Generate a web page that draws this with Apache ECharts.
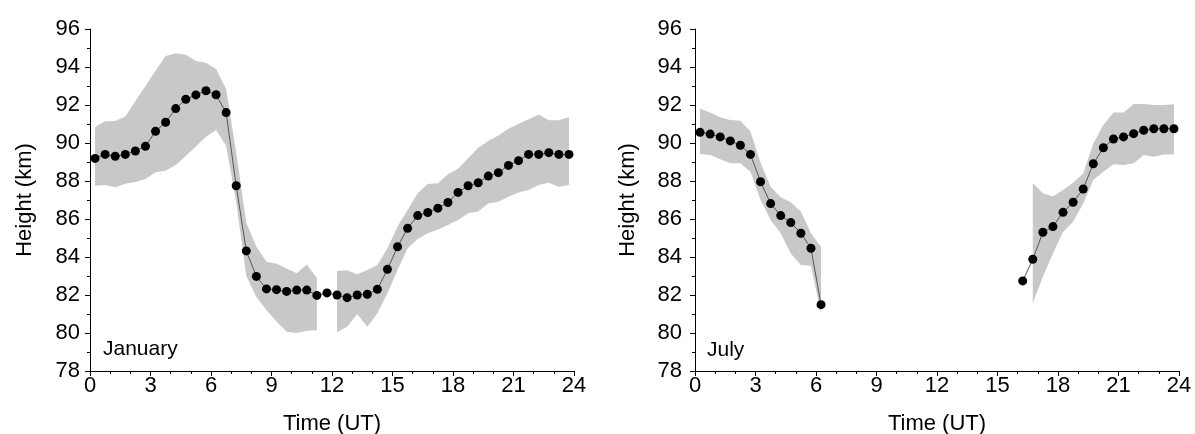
<!DOCTYPE html>
<html>
<head>
<meta charset="utf-8">
<script src="https://cdn.jsdelivr.net/npm/echarts@6/dist/echarts.min.js"></script>
<style>html,body{margin:0;padding:0;background:#fff;}#c{width:1195px;height:434px;}</style>
</head>
<body>
<div id="c"></div>
<script>
var timeUT = [0.25, 0.75, 1.25, 1.75, 2.25, 2.75, 3.25, 3.75, 4.25, 4.75, 5.25, 5.75,
  6.25, 6.75, 7.25, 7.75, 8.25, 8.75, 9.25, 9.75, 10.25, 10.75, 11.25, 11.75,
  12.25, 12.75, 13.25, 13.75, 14.25, 14.75, 15.25, 15.75, 16.25, 16.75, 17.25, 17.75,
  18.25, 18.75, 19.25, 19.75, 20.25, 20.75, 21.25, 21.75, 22.25, 22.75, 23.25, 23.75];

var janMean = [89.19, 89.40, 89.30, 89.40, 89.58, 89.83, 90.62, 91.09, 91.81, 92.30,
  92.53, 92.75, 92.54, 91.60, 87.75, 84.32, 82.98, 82.32, 82.28, 82.19,
  82.26, 82.26, 81.98, 82.11, 82.00, 81.86, 82.00, 82.04, 82.30, 83.35,
  84.54, 85.51, 86.18, 86.34, 86.57, 86.87, 87.40, 87.75, 87.91, 88.26,
  88.44, 88.82, 89.07, 89.40, 89.40, 89.49, 89.40, 89.40];
var janUpper = [90.84, 91.14, 91.16, 91.39, 92.2, 93.0, 93.8, 94.58, 94.72, 94.65,
  94.32, 94.23, 93.9, 92.83, 89.5, 85.8, 84.54, 83.75, 83.65, 83.4,
  83.14, 83.6, 82.88, null, 83.26, 83.3, 83.09, 83.32, 83.58, 84.46,
  85.6, 86.47, 87.35, 87.84, 87.88, 88.35, 88.65, 89.2, 89.75, 90.1,
  90.4, 90.75, 91.0, 91.25, 91.5, 91.2, 91.2, 91.35];
var janLower = [87.75, 87.79, 87.67, 87.86, 87.95, 88.1, 88.46, 88.54, 88.84, 89.32,
  89.81, 90.33, 90.68, 89.86, 86.9, 83.0, 81.9, 81.21, 80.6, 80.07,
  80.0, 80.12, 80.15, null, 80.04, 80.33, 81.0, 80.33, 81.04, 82.09,
  83.32, 84.46, 84.95, 85.25, 85.45, 85.68, 85.95, 86.3, 86.39, 86.82,
  86.91, 87.17, 87.4, 87.53, 87.79, 87.91, 87.7, 87.79];

var julMean = [90.56, 90.47, 90.32, 90.11, 89.88, 89.40, 87.96, 86.81, 86.18, 85.81,
  85.25, 84.46, 81.49, null, null, null, null, null, null, null,
  null, null, null, null, null, null, null, null, null, null,
  null, null, 82.74, 83.88, 85.3, 85.6, 86.35, 86.88, 87.58, 88.91,
  89.75, 90.21, 90.32, 90.49, 90.67, 90.75, 90.75, 90.75];
var julUpper = [91.82, 91.6, 91.35, 91.21, 91.17, 90.6, 88.96, 87.7, 87.14, 86.88,
  86.39, 85.25, 84.54, null, null, null, null, null, null, null,
  null, null, null, null, null, null, null, null, null, null,
  null, null, null, 87.88, 87.35, 87.18, 87.53, 87.91, 88.4, 89.98,
  90.95, 91.6, 91.6, 92.05, 92.05, 92.0, 92.0, 92.04];
var julLower = [89.42, 89.37, 89.14, 88.93, 88.93, 88.49, 87.0, 85.95, 85.25, 84.19,
  83.58, 83.54, 81.04, null, null, null, null, null, null, null,
  null, null, null, null, null, null, null, null, null, null,
  null, null, null, 81.56, 82.96, 84.19, 85.33, 85.86, 86.82, 88.05,
  88.49, 88.88, 88.84, 88.93, 89.37, 89.28, 89.4, 89.4];

var xTicks = {min: 0, max: 24, interval: 3};
var yTicks = {min: 78, max: 96, interval: 2};
var panelTitles = ['January', 'July'];

var FONT = 'Liberation Sans, Arial, sans-serif';
var BAND = '#c8c8c8';

function pairs(vals) {
  return timeUT.map(function (t, i) { return [t, vals[i] == null ? '-' : vals[i]]; });
}

function xAxisOf(gi) {
  return {
    type: 'value', gridIndex: gi, min: xTicks.min, max: xTicks.max, interval: xTicks.interval,
    name: 'Time (UT)', nameLocation: 'middle', nameGap: 42,
    nameTextStyle: {fontFamily: FONT, fontSize: 22, color: '#000'},
    axisLine: {show: true, onZero: false, lineStyle: {color: '#000', width: 1}},
    axisTick: {show: true, inside: false, length: 5, lineStyle: {color: '#000'}},
    minorTick: {show: true, splitNumber: 3, length: 3, lineStyle: {color: '#000'}},
    axisLabel: {fontFamily: FONT, fontSize: 22, color: '#000', margin: 4},
    splitLine: {show: false}, minorSplitLine: {show: false}
  };
}
function yAxisOf(gi, gap, lm) {
  return {
    type: 'value', gridIndex: gi, min: yTicks.min, max: yTicks.max, interval: yTicks.interval,
    name: 'Height (km)', nameLocation: 'middle', nameGap: gap, nameRotate: 90,
    nameTextStyle: {fontFamily: FONT, fontSize: 22, color: '#000'},
    axisLine: {show: true, onZero: false, lineStyle: {color: '#000', width: 1}},
    axisTick: {show: true, inside: false, length: 5, lineStyle: {color: '#000'}},
    minorTick: {show: true, splitNumber: 2, length: 3, lineStyle: {color: '#000'}},
    axisLabel: {fontFamily: FONT, fontSize: 22, color: '#000', margin: lm},
    splitLine: {show: false}, minorSplitLine: {show: false}
  };
}

// Band drawn as one polygon per contiguous run of valid [lower, upper] values,
// positioned through the grid's own scales via api.coord.
function bandSeries(gi, up, lo) {
  var data = timeUT.map(function (t, i) {
    return [t, lo[i] == null ? '-' : lo[i], up[i] == null ? '-' : up[i]];
  });
  function valid(i) { return i >= 0 && i < timeUT.length && up[i] != null && lo[i] != null; }
  return {
    type: 'custom', xAxisIndex: gi, yAxisIndex: gi, data: data, silent: true, z: 1,
    encode: {x: 0, y: [1, 2]},
    renderItem: function (params, api) {
      var i = params.dataIndex;
      if (!valid(i) || valid(i - 1)) return null;
      var top = [], bot = [];
      var j = i;
      while (valid(j)) {
        top.push(api.coord([timeUT[j], up[j]]));
        bot.push(api.coord([timeUT[j], lo[j]]));
        j++;
      }
      var pts = top.concat(bot.reverse());
      return {type: 'polygon', shape: {points: pts}, style: {fill: BAND, stroke: null}};
    }
  };
}
function meanSeries(gi, vals) {
  return {
    type: 'line', xAxisIndex: gi, yAxisIndex: gi, data: pairs(vals),
    symbol: 'circle', symbolSize: 9, showAllSymbol: true,
    itemStyle: {color: '#000', borderWidth: 0},
    lineStyle: {color: '#555', width: 1}, z: 3
  };
}

var chart = echarts.init(document.getElementById('c'), null, {renderer: 'canvas'});
chart.setOption({
  animation: false,
  backgroundColor: '#fff',
  title: [
    {text: panelTitles[0], left: 103, top: 339, textStyle: {fontFamily: FONT, fontSize: 21, fontWeight: 'normal', color: '#000'}, padding: 0},
    {text: panelTitles[1], left: 707, top: 340, textStyle: {fontFamily: FONT, fontSize: 21, fontWeight: 'normal', color: '#000'}, padding: 0}
  ],
  grid: [
    {left: 90, top: 29, width: 484, height: 342, containLabel: false, outerBoundsMode: 'none'},
    {left: 695, top: 29, width: 484, height: 342, containLabel: false, outerBoundsMode: 'none'}
  ],
  xAxis: [xAxisOf(0), xAxisOf(1)],
  yAxis: [yAxisOf(0, 54, 10), yAxisOf(1, 56, 13)],
  series: [
    bandSeries(0, janUpper, janLower),
    meanSeries(0, janMean),
    bandSeries(1, julUpper, julLower),
    meanSeries(1, julMean)
  ]
});
</script>
</body>
</html>
